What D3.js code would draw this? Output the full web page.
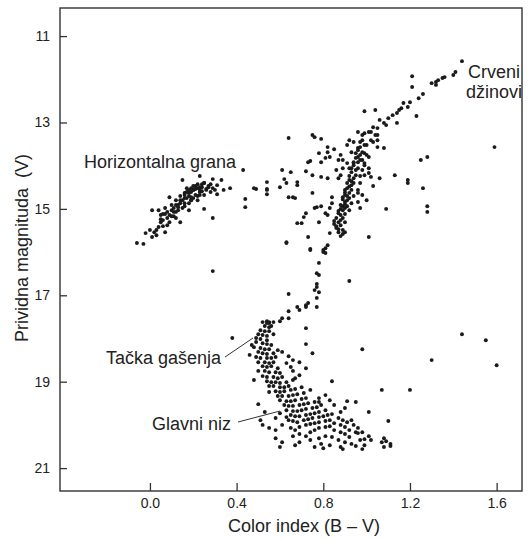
<!DOCTYPE html>
<meta charset="utf-8">
<style>
body { margin: 0; background: #fff; }
svg { font-family: "Liberation Sans", Arial, sans-serif; }
.star { fill: #1a1a1a; }
.axis text { font-size: 14px; fill: #222; }
.axis line { stroke: #333; stroke-width: 1.3; }
.label { font-size: 18px; fill: #222; }
</style>
<svg width="530" height="539"></svg>
<script src="https://d3js.org/d3.v7.min.js"></script>
<script>

// [B-V, V]
var horizontalBranch = [
  [-0.06,15.79],[-0.03,15.81],[-0.02,15.56],[0.01,15.65],[0.02,15.54],[0.03,15.61],[0.04,15.42],
  [0.01,15.03],[0.04,15.03],[0.05,15.14],[0.06,15.26],[0.07,15.54],[0.08,15.38],[0.09,14.73],
  [0.09,15.14],[0.11,15.07],[0.12,15.21],[0.13,14.96],[0.14,15.31],[0.14,14.80],[0.15,14.33],
  [0.16,14.63],[0.16,14.87],[0.17,14.52],[0.18,15.03],[0.19,14.73],[0.19,14.80],[0.20,14.56],
  [0.21,14.68],[0.22,14.80],[0.23,14.24],[0.23,14.61],[0.24,14.50],[0.25,14.68],[0.25,15.00],
  [0.25,14.40],[0.26,14.56],[0.27,14.50],[0.29,15.21],[0.29,14.31],[0.29,14.52],[0.31,14.45],
  [0.31,14.66],[0.33,14.33],[0.34,14.56],[0.37,14.52],
  [0.07,15.12],[0.08,15.07],[0.06,15.12],[0.10,15.03],[0.11,14.98],[0.12,14.91],[0.13,14.91],
  [0.14,14.87],[0.15,14.80],[0.17,14.75],[0.18,14.70],[0.18,14.63],[0.19,14.61],[0.20,14.56],
  [0.21,14.54],[0.22,14.52],[0.23,14.50],[0.12,15.07],[0.13,15.03],[0.15,14.98],[0.16,14.94],
  [0.18,14.87],[0.19,14.80],[0.20,14.75],[0.22,14.70],[0.23,14.68],[0.24,14.59],[0.26,14.54],
  [0.27,14.47],[0.28,14.43],[0.08,15.21],[0.10,15.17],[0.09,15.31],[0.05,15.31],[0.06,15.40],
  [0.03,15.49],[0.00,15.49],[0.16,14.68],[0.18,14.56],[0.20,14.47],[0.22,14.43],[0.25,14.40],
  [0.28,14.61],[0.30,14.56],[0.10,14.91],[0.12,14.80],[0.14,14.70],[0.16,14.75],[0.17,14.61],
  [0.19,14.52],[0.21,14.47],[0.23,14.56],[0.24,14.43],[0.07,14.98],[0.05,15.24],[0.11,15.17]
];

var gapStars = [
  [0.43,14.10],[0.44,14.77],[0.44,14.96],[0.49,14.54],[0.54,14.38],[0.54,14.54],[0.54,14.66],
  [0.60,14.50],[0.61,14.10],[0.62,14.31],[0.63,14.40],[0.64,14.73],[0.65,14.15],[0.67,14.75],
  [0.68,14.45],[0.68,14.38],[0.72,14.13],[0.73,13.92],[0.64,13.36],[0.63,15.79],[0.48,14.52],
  [0.54,14.56],[0.66,14.73]
];

var giantBranch = [
  [1.44,11.58],[1.41,11.83],[1.40,11.90],[1.36,11.95],[1.35,11.97],[1.33,12.02],[1.32,12.06],
  [1.30,12.09],[1.32,12.13],[1.21,11.93],[1.21,12.18],[1.26,12.34],[1.24,12.44],[1.20,12.53],
  [1.19,12.64],[1.17,12.55],[1.16,12.67],[1.15,12.71],[1.14,12.78],[1.12,12.83],[1.14,13.01],
  [1.23,12.85],[1.10,12.90],[1.09,13.06],[1.08,13.01],[1.06,12.94],[1.04,12.71],[0.99,12.74],
  [1.05,13.13],[1.03,13.11],[1.02,13.22],[1.01,13.22],[0.99,13.25],[0.98,13.29],[0.96,13.22],
  [1.04,13.29],[1.05,13.41],[1.03,13.45],[1.02,13.41],[1.00,13.52],[0.98,13.41],[0.97,13.45],
  [0.94,13.45],[0.92,13.41],[0.91,13.52],[1.05,13.57],[1.08,13.59],[1.05,13.29],[0.75,13.29],
  [0.76,13.34],[0.79,13.38],[0.82,13.57],[0.85,13.62],[0.82,13.69],[0.83,13.80],[0.81,13.82],
  [0.79,13.92],[0.78,13.71],[0.74,13.89],[0.88,13.75],[0.87,13.87],[0.89,13.87],[0.93,13.69],
  [0.96,13.59],[0.96,13.80],[0.99,13.71],[0.98,13.87],[0.99,13.99],[1.01,14.06],[1.01,13.80],
  [0.94,13.94],[0.91,13.94],[0.92,14.06],[0.89,14.06],[0.86,14.10],[1.25,13.87],[1.28,13.80],
  [1.13,14.22],[1.19,14.33],[1.19,14.40],[1.26,14.52],[1.06,14.29],[1.03,14.47],[1.02,14.26],
  [1.01,14.17],[0.99,14.22],[1.09,15.00],[1.28,14.94],[1.28,15.07],[1.59,13.57],
  [0.75,14.22],[0.75,14.63],[0.79,14.26],[0.82,14.29],[0.87,14.29],[0.88,14.22],[0.84,14.73],
  [0.84,14.87],[0.83,14.98],[0.79,14.94],[0.77,14.96],[0.76,14.98],[0.81,15.10],[0.82,15.14],
  [0.72,15.10],[0.71,15.19],[0.68,15.33],[0.70,15.33],[0.78,15.31],[0.83,15.56],[0.73,15.65],
  [0.63,15.77],[0.74,15.93],[0.81,15.91],[0.80,16.00],[0.82,15.84],[1.01,15.65],[0.97,14.98],
  [1.00,14.80],[0.98,14.68],[0.96,14.63],[0.96,14.84]
];

var giantCore = [
  [0.86,15.44],[0.87,15.47],[0.89,15.49],[0.85,15.35],[0.87,15.31],[0.88,15.38],[0.90,15.31],
  [0.86,15.21],[0.88,15.14],[0.89,15.21],[0.90,15.12],[0.87,15.05],[0.89,15.03],[0.90,14.98],
  [0.91,14.94],[0.88,14.91],[0.90,14.84],[0.91,14.80],[0.92,14.75],[0.89,14.73],[0.90,14.68],
  [0.92,14.63],[0.93,14.56],[0.90,14.56],[0.91,14.52],[0.93,14.45],[0.94,14.40],[0.91,14.40],
  [0.92,14.33],[0.94,14.29],[0.95,14.22],[0.92,14.24],[0.93,14.15],[0.95,14.10],[0.96,14.06],
  [0.93,14.06],[0.94,13.99],[0.96,13.92],[0.97,13.87],[0.94,13.92],[0.95,13.82],[0.97,13.75],
  [0.98,13.69],[0.95,13.71],[0.96,13.64],[0.97,13.57],[0.99,13.52],[0.89,15.58],[0.88,15.63],
  [0.90,15.54],[0.87,15.54],[0.92,15.03],[0.93,14.87],[0.94,14.70],[0.96,14.56],[0.97,14.40],
  [0.97,14.24],[0.98,14.10],[0.99,13.94],[1.00,13.75],[0.85,15.28],[0.86,15.40],[0.88,15.26],
  [0.87,15.10],[0.89,14.94],[0.88,15.00],[0.90,14.89],[0.91,14.70],[0.89,14.78],[0.90,14.62],
  [0.92,14.48],[0.93,14.36]
];

var subgiantBranch = [
  [0.74,15.95],[0.81,16.02],[0.80,15.95],[0.78,16.25],[0.77,16.49],[0.78,16.53],[0.77,16.74],
  [0.77,16.81],[0.76,16.88],[0.78,16.93],[0.77,17.06],[0.73,17.18],[0.72,17.23],[0.72,17.27],
  [0.68,17.27],[0.69,17.34],[0.77,17.27],[0.64,17.37],[0.64,17.53],[0.61,17.53],[0.60,17.60],
  [0.57,17.62],[0.55,17.62],[0.54,17.64]
];

var mainSequence = [
  [0.52,17.62],[0.54,17.60],[0.55,17.64],[0.53,17.71],[0.55,17.74],[0.56,17.71],[0.51,17.81],
  [0.53,17.83],[0.55,17.83],[0.50,17.90],[0.52,17.92],[0.54,17.94],[0.57,17.90],[0.51,18.01],
  [0.54,18.04],[0.49,17.99],[0.49,18.08],[0.52,18.11],[0.54,18.13],[0.56,18.15],[0.48,18.20],
  [0.51,18.22],[0.53,18.25],[0.55,18.25],[0.50,18.31],[0.52,18.34],[0.54,18.36],[0.57,18.34],
  [0.49,18.43],[0.51,18.45],[0.54,18.45],[0.56,18.45],[0.58,18.43],[0.50,18.55],[0.53,18.55],
  [0.55,18.57],[0.57,18.55],[0.47,18.15],[0.46,18.38],[0.59,18.27],[0.61,18.31],[0.64,18.41],
  [0.52,18.64],[0.54,18.66],[0.56,18.64],[0.59,18.69],[0.53,18.75],[0.55,18.78],[0.58,18.78],
  [0.60,18.80],[0.52,18.87],[0.54,18.89],[0.57,18.89],[0.59,18.92],[0.61,18.89],[0.54,18.99],
  [0.56,19.01],[0.58,19.01],[0.60,19.03],[0.63,19.01],[0.55,19.10],[0.57,19.10],[0.60,19.13],
  [0.62,19.13],[0.64,19.10],[0.66,18.96],[0.67,18.92],[0.69,18.85],[0.66,18.75],[0.65,18.66],
  [0.63,18.57],[0.66,18.50],[0.69,18.55],[0.72,18.69],[0.50,18.75],[0.48,18.96],[0.55,19.24],
  [0.58,19.22],[0.60,19.24],[0.62,19.22],[0.65,19.19],[0.67,19.17],[0.70,19.13],[0.59,19.33],
  [0.61,19.33],[0.64,19.33],[0.66,19.31],[0.68,19.29],[0.71,19.26],[0.60,19.43],[0.63,19.45],
  [0.65,19.45],[0.67,19.43],[0.70,19.40],[0.72,19.38],[0.62,19.54],[0.64,19.56],[0.66,19.56],
  [0.69,19.54],[0.71,19.52],[0.73,19.50],[0.76,19.47],[0.63,19.66],[0.66,19.68],[0.68,19.68],
  [0.70,19.66],[0.72,19.63],[0.75,19.61],[0.77,19.59],[0.79,19.54],[0.65,19.77],[0.67,19.80],
  [0.69,19.80],[0.72,19.77],[0.74,19.75],[0.76,19.73],[0.78,19.70],[0.81,19.66],[0.60,19.73],
  [0.58,19.84],[0.53,19.70],[0.50,19.52],[0.78,19.38],[0.81,19.31],[0.74,19.19],[0.78,19.47],
  [0.83,19.43],[0.85,19.54],[0.88,19.70],[0.90,19.61],[0.95,19.47],[0.93,19.89],[0.55,20.07],
  [0.58,20.12],[0.61,20.00],[0.64,19.89],[0.66,19.91],[0.68,19.94],[0.71,19.89],[0.73,19.87],
  [0.75,19.84],[0.78,19.82],[0.80,19.80],[0.82,19.77],[0.84,19.75],[0.87,19.84],[0.89,19.89],
  [0.91,19.94],[0.94,20.00],[0.96,20.07],[0.98,20.17],[1.01,20.26],[0.65,20.07],[0.67,20.12],
  [0.69,20.05],[0.72,20.00],[0.74,19.98],[0.76,19.96],[0.78,19.94],[0.81,19.91],[0.83,19.89],
  [0.85,19.96],[0.88,20.00],[0.90,20.05],[0.92,20.12],[0.95,20.17],[0.69,20.21],[0.72,20.26],
  [0.74,20.17],[0.76,20.12],[0.78,20.07],[0.81,20.05],[0.83,20.03],[0.85,20.12],[0.88,20.17],
  [0.90,20.21],[0.92,20.28],[0.97,20.35],[0.74,20.35],[0.78,20.31],[0.81,20.26],[0.84,20.28],
  [0.87,20.35],[0.90,20.40],[0.93,20.44],[0.79,20.44],[0.83,20.47],[0.88,20.51],[0.95,20.49],
  [0.99,20.47],[1.02,20.35],[1.07,20.40],[1.08,20.51],[0.98,20.56],[0.61,20.40],[0.67,20.47],
  [0.52,20.00],[0.58,20.31],[0.69,20.40],[0.76,20.51],[0.66,20.26],[0.63,19.82],[0.51,19.89]
];

var fieldStars = [
  [0.92,16.67],[0.64,16.97],[0.72,17.76],[0.72,18.13],[0.38,17.99],[0.98,18.25],[0.29,16.44],
  [0.75,18.34],[1.07,19.19],[0.91,19.45],[1.01,19.70],[1.10,19.91],[0.99,20.33],[1.08,20.31],
  [1.09,20.38],[1.11,20.49],[0.60,20.51],[0.80,20.54],[0.89,20.56],[0.84,18.99],[0.96,20.19],
  [1.44,17.90],[1.55,18.04],[1.60,18.62],[1.30,18.50],[1.20,19.19],[1.11,20.44]
];

var xTicks = [0.0, 0.4, 0.8, 1.2, 1.6];
var yTicks = [11, 13, 15, 17, 19, 21];

var svg = d3.select("svg"),
    margin = {top: 8, left: 60},
    width = 462,
    height = 483;

var x = d3.scaleLinear().domain([-0.415, 1.717]).range([0, width]),
    y = d3.scaleLinear().domain([10.35, 21.53]).range([0, height]);

var g = svg.append("g")
    .attr("transform", "translate(" + margin.left + "," + margin.top + ")");

var allStars = [].concat(horizontalBranch, gapStars, giantBranch, giantCore,
                         subgiantBranch, mainSequence, fieldStars);

g.selectAll(".star")
  .data(allStars)
  .enter().append("circle")
    .attr("class", "star")
    .attr("cx", function(d) { return x(d[0]); })
    .attr("cy", function(d) { return y(d[1]); })
    .attr("r", 1.95);

g.append("g")
    .attr("class", "axis")
    .attr("transform", "translate(0," + height + ")")
    .call(d3.axisBottom(x).tickValues(xTicks).tickFormat(d3.format(".1f"))
      .tickSizeInner(-8).tickSizeOuter(0).tickPadding(7))
    .call(function(a) { a.select(".domain").remove(); });

g.append("g")
    .attr("class", "axis")
    .call(d3.axisLeft(y).tickValues(yTicks).tickFormat(d3.format("d"))
      .tickSizeInner(-7).tickSizeOuter(0).tickPadding(10))
    .call(function(a) { a.select(".domain").remove(); });

g.append("rect")
    .attr("width", width)
    .attr("height", height)
    .attr("fill", "none")
    .attr("stroke", "#333")
    .attr("stroke-width", 1.4);

// axis titles
svg.append("text")
    .attr("class", "label")
    .attr("x", 304)
    .attr("y", 532)
    .attr("text-anchor", "middle")
    .text("Color index (B \u2013 V)");

svg.append("text")
    .attr("class", "label")
    .attr("transform", "translate(28,248) rotate(-90)")
    .attr("text-anchor", "middle")
    .text("Prividna magnituda\u00a0\u00a0(V)");

// annotations
svg.append("text").attr("class", "label").attr("x", 468).attr("y", 78).text("Crveni");
svg.append("text").attr("class", "label").attr("x", 466).attr("y", 98).text("d\u017einovi");
svg.append("text").attr("class", "label").attr("x", 84).attr("y", 168).text("Horizontalna grana");
svg.append("text").attr("class", "label").attr("x", 106).attr("y", 364).text("Ta\u010dka ga\u0161enja");
svg.append("text").attr("class", "label").attr("x", 152).attr("y", 430).text("Glavni niz");

svg.append("line").attr("x1", 225).attr("y1", 357).attr("x2", 253).attr("y2", 338)
    .attr("stroke", "#333").attr("stroke-width", 1);
svg.append("line").attr("x1", 238).attr("y1", 422).attr("x2", 280).attr("y2", 411)
    .attr("stroke", "#333").attr("stroke-width", 1);

</script>
